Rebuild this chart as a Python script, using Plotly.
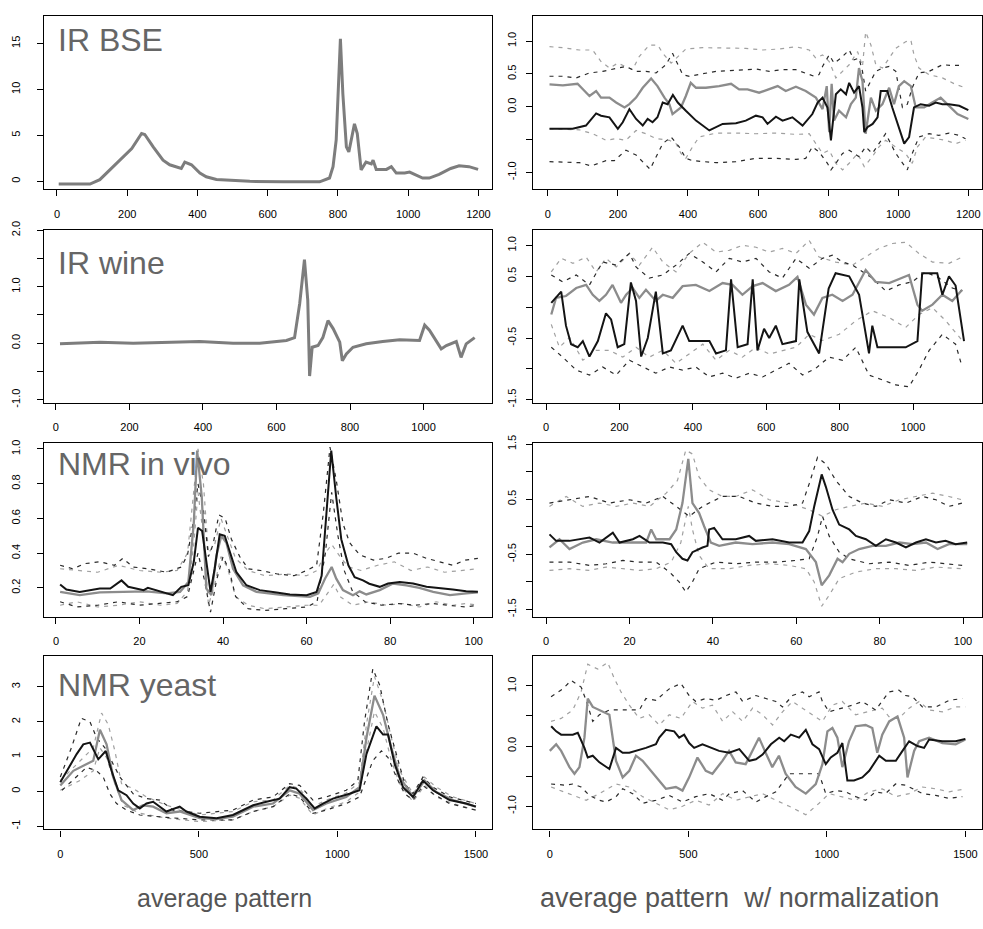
import plotly.graph_objects as go

# ---------------- data ----------------
# Row 1 left: IR BSE average pattern
bse_x = [5,94,122,151,198,213,241,250,274,302,321,340,354,364,383,407,425,454,502,549,644,748,776,786,795,807,814,824,831,838,847,855,866,880,895,900,909,938,952,966,990,1004,1041,1060,1088,1121,1145,1173,1199]
bse_y = [-0.3,-0.3,0.18,1.25,3.0,3.57,5.2,5.1,3.75,2.3,1.8,1.6,1.4,2.1,1.8,0.9,0.5,0.2,0.1,0.0,-0.05,-0.05,0.36,1.6,4.5,15.5,9.5,3.75,3.2,4.5,6.25,5.2,1.25,2.1,1.9,2.3,1.3,1.3,1.6,0.9,0.9,1.0,0.35,0.35,0.75,1.4,1.7,1.6,1.3]

# Row 1 right: IR BSE normalized
bsen_black_x = [5,71,109,124,138,152,176,200,214,233,252,271,285,299,313,328,342,357,371,394,423,461,499,537,565,594,613,627,651,670,698,727,755,770,784,798,808,812,822,836,851,860,874,888,898,903,912,927,941,950,969,983,1002,1017,1031,1045,1064,1088,1107,1126,1145,1174,1200]
bsen_black_y = [-0.335,-0.335,-0.285,-0.185,-0.1,-0.135,-0.16,-0.335,-0.235,-0.035,-0.185,-0.285,-0.185,-0.235,-0.16,0.065,0.04,0.18,0.065,-0.06,-0.21,-0.36,-0.26,-0.25,-0.21,-0.135,-0.16,-0.26,-0.15,-0.21,-0.16,-0.285,-0.11,0.065,0.14,-0.01,-0.51,-0.31,0.19,0.265,0.19,0.365,0.215,0.315,-0.01,-0.385,-0.31,-0.26,-0.16,0.24,0.24,-0.01,-0.31,-0.56,-0.46,-0.01,0.04,0.015,0.065,0.04,0.04,0.015,-0.05]
bsen_gray_x = [5,43,85,119,138,152,176,195,219,233,252,271,295,313,333,347,356,380,394,408,423,451,489,523,546,570,603,632,656,679,708,736,765,784,796,803,810,817,831,851,865,879,888,898,907,922,936,955,974,988,1002,1017,1036,1050,1074,1097,1121,1145,1169,1200]
bsen_gray_y = [0.34,0.325,0.35,0.165,0.24,0.14,0.14,0.065,-0.01,0.04,0.14,0.29,0.43,0.315,0.14,0.04,-0.11,-0.01,0.165,0.365,0.29,0.29,0.315,0.35,0.265,0.265,0.215,0.265,0.315,0.24,0.305,0.24,0.14,-0.035,0.315,-0.385,0.35,-0.21,-0.06,-0.16,0.04,0.14,0.59,0.39,-0.41,0.14,-0.06,0.04,0.29,0.04,0.315,0.39,0.315,-0.01,-0.01,0.065,0.14,0.015,-0.11,-0.185]
bsen_gu_x = [5,43,90,128,152,176,200,223,242,261,290,314,328,352,371,394,442,518,565,613,660,708,746,765,784,803,822,841,860,884,898,907,922,936,955,974,993,1021,1036,1045,1059,1088,1126,1164,1192]
bsen_gu_y = [0.915,0.9,0.865,0.865,0.69,0.59,0.665,0.615,0.565,0.765,0.94,0.94,0.815,0.665,0.765,0.88,0.9,0.9,0.89,0.865,0.88,0.915,0.865,0.74,0.79,0.69,0.44,0.54,0.64,0.84,0.615,1.14,0.94,0.64,0.59,0.74,0.89,0.99,1.015,0.79,0.59,0.49,0.44,0.34,0.29]
bsen_bu_x = [5,43,81,119,157,195,223,252,280,309,337,356,371,385,404,442,480,518,556,594,632,670,708,736,760,774,784,803,817,836,860,874,888,898,907,936,955,974,993,1012,1026,1040,1059,1088,1126,1154,1183]
bsen_bu_y = [0.465,0.465,0.44,0.515,0.54,0.59,0.615,0.54,0.54,0.515,0.64,0.815,0.64,0.49,0.465,0.5,0.54,0.55,0.565,0.575,0.54,0.565,0.565,0.515,0.465,0.49,0.615,0.79,0.665,0.74,0.865,0.715,0.74,0.54,0.24,0.54,0.59,0.615,0.54,-0.01,0.04,0.29,0.515,0.54,0.64,0.63,0.63]
bsen_bl_x = [5,90,124,166,190,223,252,276,292,314,328,352,375,394,413,480,537,594,651,708,736,755,774,798,808,822,841,860,888,907,926,945,964,993,1012,1026,1040,1059,1088,1116,1145,1173,1192]
bsen_bl_y = [-0.835,-0.85,-0.9,-0.82,-0.82,-0.66,-0.735,-0.86,-0.95,-0.71,-0.56,-0.46,-0.61,-0.785,-0.82,-0.85,-0.835,-0.785,-0.785,-0.8,-0.785,-0.61,-0.685,-0.86,-0.96,-0.86,-0.71,-0.66,-0.76,-0.61,-0.71,-0.56,-0.41,-0.71,-0.86,-0.96,-0.71,-0.46,-0.41,-0.435,-0.4,-0.435,-0.485]
bsen_gl_x = [5,90,128,166,195,223,252,280,309,347,366,380,394,413,432,480,537,594,651,708,746,770,784,803,822,841,860,884,903,926,945,964,993,1021,1040,1055,1078,1107,1135,1164,1192]
bsen_gl_y = [-0.335,-0.35,-0.41,-0.51,-0.485,-0.51,-0.36,-0.41,-0.485,-0.51,-0.56,-0.71,-0.785,-0.61,-0.46,-0.4,-0.4,-0.41,-0.4,-0.42,-0.41,-0.61,-0.71,-0.66,-0.86,-0.96,-0.86,-0.71,-0.91,-0.76,-0.61,-0.51,-0.61,-0.71,-0.86,-0.61,-0.46,-0.485,-0.51,-0.56,-0.51]

# Row 2 left: IR wine average pattern
wine_x = [11,120,210,301,391,482,554,627,649,663,676,685,690,697,713,726,740,754,767,772,779,790,808,844,889,935,989,1003,1016,1048,1062,1089,1102,1116,1139]
wine_y = [-0.01,0.02,0.0,0.02,0.03,0.0,0.0,0.05,0.1,0.7,1.48,0.76,-0.58,-0.07,-0.04,0.1,0.4,0.26,0.1,0.02,-0.31,-0.19,-0.07,-0.01,0.03,0.06,0.05,0.32,0.23,-0.1,-0.04,0.03,-0.25,-0.01,0.1]

# Row 2 right: IR wine normalized
winen_black_x = [14,41,54,68,86,100,118,141,163,177,195,213,231,245,259,277,299,318,340,372,390,445,463,490,504,522,549,563,576,594,608,626,644,681,690,712,744,770,789,826,853,880,889,903,980,1012,1025,1066,1080,1098,1116,1139]
winen_black_y = [0.07,0.25,-0.3,-0.6,-0.65,-0.55,-0.8,-0.55,-0.1,-0.2,-0.65,-0.6,0.4,0.1,-0.8,-0.5,0.25,-0.75,-0.7,-0.3,-0.55,-0.55,-0.75,-0.7,0.45,-0.65,-0.6,0.45,-0.7,-0.35,-0.5,-0.3,-0.6,-0.55,0.45,-0.4,-0.75,0.3,0.55,0.5,0.2,-0.75,-0.3,-0.65,-0.65,-0.55,0.55,0.55,0.2,0.5,0.35,-0.55]
winen_gray_x = [14,27,54,82,109,127,145,163,181,204,218,236,254,272,299,318,345,372,408,445,481,508,535,563,590,626,662,685,708,730,753,780,808,835,871,898,935,989,1012,1025,1053,1080,1107,1134]
winen_gray_y = [-0.12,0.15,0.18,0.31,0.36,0.2,0.1,0.2,0.36,0.07,0.2,0.31,0.15,0.28,0.1,0.2,0.15,0.34,0.36,0.26,0.39,0.36,0.2,0.34,0.39,0.26,0.36,0.49,0.04,-0.12,0.15,0.2,0.1,0.2,0.6,0.41,0.39,0.52,0.04,-0.06,0.04,0.2,0.1,0.28]
winen_gu_x = [14,41,73,109,136,163,191,227,254,290,318,354,390,427,463,499,535,572,608,644,681,717,744,789,835,871,907,944,980,1016,1053,1098,1134]
winen_gu_y = [0.57,0.79,0.71,0.81,0.57,0.79,0.65,0.87,0.68,0.97,0.73,0.57,0.87,1.05,0.89,0.92,1.0,0.97,0.89,0.95,0.87,1.08,0.81,0.73,0.68,0.81,0.95,1.03,1.05,0.87,0.73,0.71,0.81]
winen_bu_x = [14,45,82,118,154,191,227,245,281,318,354,390,427,463,499,535,572,608,644,681,717,753,780,808,835,862,889,926,962,998,1034,1071,1107,1134]
winen_bu_y = [0.52,0.41,0.52,0.36,0.73,0.68,0.87,0.65,0.47,0.52,0.68,0.87,0.73,0.57,0.79,0.73,0.79,0.57,0.47,0.79,0.63,0.79,0.84,0.73,0.68,0.57,0.47,0.26,0.36,0.41,0.57,0.47,0.31,0.26]
winen_bl_x = [14,45,82,118,154,191,227,263,299,336,372,408,445,481,517,554,590,626,662,699,735,771,808,844,880,917,953,989,1016,1044,1080,1116,1134]
winen_bl_y = [-0.65,-0.81,-1.02,-1.1,-0.97,-1.1,-0.86,-0.97,-1.07,-0.97,-1.02,-0.97,-1.13,-1.07,-1.15,-1.07,-1.13,-1.02,-0.91,-1.1,-0.99,-0.81,-0.86,-0.65,-1.1,-1.18,-1.26,-1.29,-1.02,-0.7,-0.44,-0.6,-0.97]
winen_gl_x = [14,36,64,100,136,172,209,245,281,318,354,390,427,463,499,535,572,608,644,681,717,753,799,844,889,935,980,1016,1053,1089,1134]
winen_gl_y = [-0.28,-0.65,-0.49,-0.86,-0.7,-0.7,-0.81,-0.65,-0.81,-0.7,-0.91,-0.76,-0.6,-0.86,-0.7,-0.81,-0.65,-0.76,-0.7,-0.65,-0.44,-0.54,-0.44,-0.22,-0.06,-0.17,-0.33,-0.12,-0.01,-0.22,-0.54]

# Row 3 left: NMR in vivo average pattern
vivo_black_x = [1,2.5,5.7,10.5,13,15.7,17.3,21,22,25,28,30,31.7,33,34,35,36,37,38,39.2,40.4,41.6,43.2,45.6,48.8,52.8,56,60,62.4,63.6,64.8,65.9,67.1,68.3,70,71.5,73.5,75,77.5,79.5,82.3,85.5,88.7,91.9,95,98.2,101]
vivo_black_y = [0.22,0.19,0.177,0.196,0.196,0.243,0.206,0.187,0.2,0.177,0.158,0.206,0.215,0.35,0.546,0.527,0.366,0.177,0.31,0.508,0.5,0.404,0.29,0.215,0.187,0.174,0.162,0.158,0.177,0.27,0.63,0.99,0.72,0.48,0.33,0.262,0.243,0.224,0.206,0.225,0.234,0.225,0.206,0.196,0.19,0.181,0.177]
vivo_gray_x = [1,5.7,10.5,17,21.7,26.5,29.7,31.7,33,33.8,34.9,36,37.2,38.4,39.6,40.8,42.4,44.8,48,54.4,60.8,62.8,64.4,66,67.1,68.7,71.1,72.7,74.3,77.5,80.7,83.9,87,90.3,94.3,98.2,101]
vivo_gray_y = [0.177,0.158,0.174,0.177,0.18,0.168,0.177,0.234,0.574,0.99,0.726,0.196,0.158,0.385,0.5,0.46,0.31,0.215,0.177,0.158,0.149,0.168,0.253,0.32,0.253,0.187,0.158,0.18,0.162,0.187,0.225,0.215,0.2,0.177,0.158,0.168,0.174]
vivo_bu_x = [1,4,7,10.5,14,16,18.5,22,26.5,30,31.5,33,34,35.3,36.5,37.6,39,40.5,42,44,46,49,53,57,60,62.4,64,65.6,67.1,68.7,70.3,72.7,76,79,82,85.5,88.7,92,95,98,101]
vivo_bu_y = [0.33,0.31,0.34,0.35,0.33,0.37,0.32,0.31,0.29,0.32,0.39,0.6,0.8,0.65,0.38,0.45,0.62,0.6,0.48,0.38,0.31,0.3,0.28,0.27,0.3,0.33,0.63,1.01,0.82,0.57,0.46,0.39,0.36,0.37,0.4,0.4,0.37,0.35,0.33,0.36,0.37]
vivo_gu_x = [1,5,10,15,20,25,29,31.5,33,34,35.3,36.5,38,39.5,41,43,46,50,55,60,62.5,64.5,66,68,70,73,77,81,85,89,93,97,101]
vivo_gu_y = [0.31,0.3,0.29,0.33,0.3,0.29,0.3,0.4,0.75,1.0,0.8,0.4,0.45,0.6,0.5,0.37,0.3,0.27,0.28,0.27,0.3,0.4,0.45,0.38,0.32,0.3,0.33,0.35,0.3,0.32,0.29,0.3,0.31]
vivo_bl_x = [1,5,10,15,20,25,29,31.5,33,34,35.5,37,38.5,40,41.5,43,46,50,55,60,62.5,64.5,66,67.5,69,71,74,78,82,86,90,94,98,101]
vivo_bl_y = [0.12,0.09,0.1,0.12,0.1,0.11,0.12,0.15,0.3,0.4,0.25,0.06,0.25,0.38,0.3,0.15,0.08,0.07,0.08,0.09,0.12,0.4,0.75,0.5,0.3,0.18,0.12,0.1,0.11,0.1,0.11,0.1,0.09,0.1]
vivo_gl_x = [1,5,10,15,20,25,29,31.5,33,34,35.3,36.5,38,39.5,41,43,46,50,55,60,63,65,66.5,68,71,75,79,83,87,91,95,98,101]
vivo_gl_y = [0.1,0.12,0.09,0.1,0.12,0.1,0.11,0.18,0.45,0.75,0.5,0.1,0.22,0.38,0.32,0.15,0.1,0.08,0.09,0.1,0.1,0.17,0.22,0.15,0.1,0.12,0.1,0.11,0.09,0.12,0.1,0.11,0.1]

# Row 3 right: NMR in vivo normalized
vivon_black_x = [0.8,2.4,5.6,10.4,12.8,16,17.6,20.8,22.4,24.8,28,30,31.2,32.7,33.9,35.1,37.5,38.7,39.1,40.3,42.3,45.5,48.7,50.3,54.3,58.3,61.5,63.1,64.3,66.1,67.1,68.7,70.3,72.7,74.3,76.7,79.1,81.5,83.9,86.3,88.7,91.1,93.5,95.8,98.2,101]
vivon_black_y = [-0.137,-0.255,-0.255,-0.196,-0.285,-0.107,-0.285,-0.226,-0.166,-0.285,-0.285,-0.315,-0.46,-0.58,-0.61,-0.46,-0.375,-0.345,-0.05,-0.02,-0.226,-0.226,-0.166,-0.255,-0.226,-0.285,-0.285,-0.077,0.368,0.95,0.725,0.31,0.04,-0.048,-0.166,-0.226,-0.345,-0.226,-0.285,-0.375,-0.285,-0.226,-0.285,-0.255,-0.315,-0.285]
vivon_gray_x = [0.8,3.2,5.6,8.8,12,16,20,24,25.2,26.4,29.6,31.2,32.7,34.1,35.1,36.7,37.9,39.5,41.5,45.5,49.5,54.3,58.3,62.3,64.7,66.1,67.9,69.9,71.1,72.7,75.1,78.3,81.5,84.7,87.9,91.1,93.9,96.6,101]
vivon_gray_y = [-0.375,-0.226,-0.404,-0.285,-0.226,-0.285,-0.285,-0.285,-0.048,-0.226,-0.226,-0.048,0.43,1.23,0.43,0.25,0.01,-0.285,-0.345,-0.285,-0.315,-0.285,-0.315,-0.404,-0.64,-1.06,-0.88,-0.58,-0.64,-0.49,-0.404,-0.345,-0.345,-0.285,-0.315,-0.285,-0.404,-0.315,-0.315]
vivon_bu_x = [0.8,5.6,10.4,15.2,20,24,28,31.2,34.3,37.5,42.3,46.3,50.3,54.3,58.3,61.5,63.1,65.1,67.1,69.5,72.7,75.9,79.1,82.3,86.3,90.3,93.5,96.6,99.8]
vivon_bu_y = [0.43,0.49,0.55,0.43,0.49,0.43,0.55,0.37,0.19,0.37,0.55,0.55,0.43,0.37,0.37,0.43,0.78,1.26,1.14,0.84,0.55,0.43,0.37,0.49,0.43,0.55,0.49,0.37,0.43]
vivon_gu_x = [0.8,4.8,8.8,12.8,16.8,20.8,24.8,28.8,31.5,33.5,35.1,36.7,39.1,42.3,45.5,49.5,53.5,58.3,63.1,66.3,69.5,72.7,76.7,80.7,84.7,88.7,92.7,96.6,99.8]
vivon_gu_y = [0.37,0.55,0.37,0.43,0.37,0.43,0.37,0.61,0.84,1.39,1.32,0.9,0.67,0.55,0.55,0.67,0.49,0.43,0.31,0.19,0.31,0.37,0.43,0.37,0.49,0.55,0.61,0.55,0.49]
vivon_bl_x = [0.8,5.6,10.4,14.4,18.4,22.4,26.4,29.6,31.9,33.5,35.1,36.7,40.7,45.5,50.3,55.1,59.9,63.1,65.1,66.3,67.9,70.3,72.7,77.5,82.3,87.1,91.9,96.6,99.8]
vivon_bl_y = [-0.64,-0.64,-0.7,-0.67,-0.61,-0.64,-0.64,-0.82,-1.0,-1.18,-1.0,-0.76,-0.64,-0.67,-0.64,-0.64,-0.61,-0.58,-0.17,0.19,-0.17,-0.46,-0.58,-0.67,-0.64,-0.7,-0.64,-0.67,-0.7]
vivon_gl_x = [0.8,5.6,10.4,14.4,18.4,22.4,26.4,30,32.3,34.1,35.1,36.7,39.1,43.9,48.7,53.5,58.3,62.3,64.3,66.1,67.9,70.3,74.3,79.1,83.9,88.7,93.5,99.8]
vivon_gl_y = [-0.79,-0.76,-0.79,-0.73,-0.76,-0.79,-0.76,-0.64,-0.29,0.37,-0.05,-0.52,-0.76,-0.76,-0.7,-0.67,-0.7,-0.76,-1.0,-1.44,-1.24,-0.94,-0.82,-0.76,-0.76,-0.79,-0.73,-0.76]

# Row 4 left: NMR yeast average pattern
yeast_black_x = [0,23,59,83,107,137,164,185,209,239,263,287,311,335,359,383,431,455,503,564,623,696,744,792,828,852,888,918,948,984,1044,1080,1105,1141,1165,1183,1207,1237,1273,1309,1345,1405,1465,1500]
yeast_black_y = [0.26,0.59,1.07,1.35,1.4,0.92,1.16,0.59,0.03,-0.11,-0.35,-0.49,-0.35,-0.3,-0.44,-0.58,-0.44,-0.58,-0.73,-0.77,-0.68,-0.4,-0.3,-0.21,0.12,0.08,-0.21,-0.49,-0.35,-0.21,-0.07,0.03,1.07,1.87,1.63,1.63,0.78,0.12,-0.16,0.31,0.03,-0.25,-0.35,-0.44]
yeast_gray_x = [0,47,119,143,167,191,221,263,299,335,383,431,503,564,623,696,768,828,864,912,960,1032,1080,1105,1134,1165,1195,1225,1273,1315,1357,1417,1500]
yeast_gray_y = [0.17,0.59,0.88,1.77,1.35,0.41,-0.25,-0.54,-0.4,-0.44,-0.63,-0.58,-0.77,-0.8,-0.73,-0.44,-0.35,0.03,-0.07,-0.54,-0.35,-0.16,0.12,1.54,2.75,2.2,1.25,0.41,-0.16,0.31,-0.02,-0.25,-0.44]
yeast_bu_x = [0,40,76,107,131,161,191,215,263,311,359,407,503,623,696,768,828,864,912,960,1032,1074,1098,1128,1153,1183,1213,1243,1273,1309,1345,1405,1500]
yeast_bu_y = [0.41,1.25,2.1,2.0,1.54,1.25,0.78,0.41,-0.07,-0.21,-0.25,-0.54,-0.63,-0.54,-0.25,-0.16,0.22,0.17,-0.25,-0.16,0.03,0.31,2.0,3.52,3.05,1.92,1.07,0.22,-0.07,0.41,0.12,-0.16,-0.35]
yeast_bl_x = [6,59,95,131,155,179,203,239,287,383,503,623,696,768,828,864,912,960,1032,1080,1105,1128,1159,1183,1213,1243,1273,1309,1345,1405,1500]
yeast_bl_y = [0.03,0.41,0.69,0.59,0.41,-0.07,-0.35,-0.54,-0.68,-0.75,-0.82,-0.82,-0.58,-0.44,-0.07,-0.16,-0.63,-0.54,-0.35,-0.16,0.41,0.88,1.16,0.97,0.41,-0.07,-0.25,0.17,-0.07,-0.35,-0.54]
yeast_gu_x = [0,71,119,149,173,197,221,263,311,383,503,623,696,768,828,864,912,960,1032,1080,1105,1134,1165,1195,1225,1273,1315,1357,1417,1500]
yeast_gu_y = [0.31,0.88,1.25,2.25,1.92,1.16,0.22,0.08,-0.16,-0.4,-0.68,-0.58,-0.3,-0.25,0.17,0.08,-0.44,-0.25,-0.05,0.26,1.92,3.3,2.58,1.54,0.59,-0.07,0.41,0.12,-0.16,-0.35]
yeast_gl_x = [0,71,119,143,167,197,227,287,383,503,623,696,768,828,864,912,960,1032,1080,1105,1134,1165,1195,1225,1273,1315,1357,1417,1500]
yeast_gl_y = [0.03,0.31,0.59,1.25,0.97,0.22,-0.4,-0.63,-0.77,-0.87,-0.82,-0.58,-0.44,-0.11,-0.2,-0.68,-0.5,-0.3,-0.02,1.16,2.29,1.82,0.88,0.22,-0.3,0.17,-0.16,-0.35,-0.54]

# Row 4 right: NMR yeast normalized
yeastn_black_x = [5,23,41,83,101,125,137,155,179,215,239,263,287,311,347,383,395,419,449,467,485,503,521,551,581,611,647,684,720,744,768,798,828,846,870,900,924,948,972,996,1014,1038,1056,1074,1098,1128,1153,1189,1213,1249,1273,1297,1327,1351,1369,1417,1465,1500]
yeastn_black_y = [0.33,0.245,0.19,0.19,0.22,-0.03,-0.19,-0.16,-0.27,-0.38,-0.03,-0.11,-0.11,-0.08,-0.03,0.03,0.14,0.27,0.245,0.14,0.19,0.05,-0.03,0.03,-0.03,-0.08,-0.11,-0.05,-0.245,-0.22,-0.14,0.03,0.14,0.08,0.19,0.14,0.27,0.03,-0.05,-0.3,-0.19,-0.11,0.05,-0.57,-0.57,-0.52,-0.41,-0.16,-0.245,-0.245,-0.08,0.08,0.0,-0.03,0.11,0.08,0.08,0.12]
yeastn_gray_x = [0,23,41,71,89,107,125,137,155,191,215,239,263,287,311,335,383,419,455,479,503,533,563,587,623,647,671,707,731,755,779,803,827,851,887,924,960,984,1002,1020,1038,1056,1080,1104,1140,1164,1182,1200,1225,1255,1279,1291,1315,1333,1369,1417,1465,1500]
yeastn_gray_y = [-0.08,0.03,-0.08,-0.35,-0.46,-0.35,0.14,0.79,0.65,0.57,0.52,-0.245,-0.52,-0.41,-0.16,-0.245,-0.52,-0.71,-0.68,-0.74,-0.52,-0.19,-0.41,-0.46,-0.245,-0.08,-0.27,-0.3,-0.08,0.14,-0.11,-0.35,-0.16,-0.46,-0.68,-0.79,-0.63,-0.3,0.245,0.3,0.14,-0.35,0.08,0.33,0.35,0.3,-0.11,0.19,0.41,0.49,0.14,-0.52,-0.08,0.08,0.14,0.05,0.03,0.11]
yeastn_bu_x = [4.6,47,77,113,131,155,179,215,263,323,347,383,431,473,503,527,563,600,636,672,696,744,780,816,840,876,912,936,972,984,1008,1056,1092,1128,1176,1224,1260,1284,1309,1345,1393,1441,1489]
yeastn_bu_y = [0.82,0.95,1.09,0.98,0.76,0.41,0.52,0.6,0.6,0.6,0.79,0.76,0.95,1.04,0.84,0.74,0.79,0.76,0.84,0.9,0.74,0.84,0.79,0.74,0.65,0.84,0.9,0.82,0.9,0.74,0.57,0.63,0.68,0.74,0.6,0.9,0.93,0.84,0.82,0.65,0.65,0.76,0.79]
yeastn_gu_x = [4.6,41,83,113,137,173,209,233,257,287,323,359,395,431,473,515,551,587,624,660,696,732,768,804,840,876,912,948,984,1020,1056,1104,1152,1200,1224,1260,1297,1333,1369,1417,1465,1500]
yeastn_gu_y = [0.41,0.46,0.6,0.9,1.36,1.28,1.39,1.12,0.9,0.68,0.46,0.52,0.35,0.52,0.46,0.74,0.63,0.68,0.41,0.57,0.41,0.63,0.52,0.35,0.57,0.74,0.63,0.52,0.41,0.68,0.74,0.52,0.57,0.63,0.49,0.46,0.63,0.74,0.6,0.57,0.65,0.65]
yeastn_bl_x = [4.6,59,83,113,143,179,203,239,263,299,335,383,431,479,527,575,624,648,696,744,780,816,864,972,996,1032,1068,1104,1140,1176,1212,1248,1284,1309,1345,1393,1441,1489]
yeastn_bl_y = [-0.63,-0.65,-0.63,-0.68,-0.82,-0.9,-0.93,-0.84,-0.71,-0.79,-0.95,-0.9,-0.82,-0.93,-0.84,-0.79,-0.9,-0.79,-0.74,-0.93,-0.84,-0.76,-0.46,-0.46,-0.79,-0.74,-0.76,-0.84,-0.9,-0.76,-0.79,-0.63,-0.65,-0.71,-0.79,-0.82,-0.87,-0.84]
yeastn_gl_x = [4.6,71,131,179,239,287,335,383,431,479,527,575,624,672,720,768,816,864,924,972,1008,1056,1104,1152,1200,1248,1297,1345,1393,1441,1500]
yeastn_gl_y = [-0.68,-0.79,-0.9,-0.79,-0.63,-0.68,-0.84,-0.95,-1.06,-1.0,-0.9,-0.98,-0.79,-0.9,-0.84,-0.79,-0.9,-1.0,-1.14,-0.95,-0.79,-0.84,-0.9,-0.76,-0.71,-0.84,-0.79,-0.68,-0.71,-0.76,-0.71]

# text
panel_labels = ["IR BSE", "IR wine", "NMR in vivo", "NMR yeast"]
column_titles = ["average pattern", "average pattern  w/ normalization"]

# ---------------- styling / layout ----------------
W, H = 983, 929
BLACK = "#141414"
GRAY = "#8c8c8c"
DBLACK = "#2a2a2a"
DGRAY = "#a0a0a0"
FONT = "Liberation Sans, Arial, Helvetica, sans-serif"

col_px = {"L": (44, 493), "R": (534, 983)}
row_px = [(7, 183), (224, 400), (441, 617), (657, 833)]

fig = go.Figure()

def dom_x(c):
    a, b = col_px[c]
    return [a / W, min(1.0, b / W)]

def dom_y(r):
    t, b = row_px[r]
    return [1 - b / H, 1 - t / H]

def add_panel(idx, col, row, xr, yr, xt, yt, ytxt):
    sfx = "" if idx == 1 else str(idx)
    common = dict(showline=True, mirror=True, linecolor="black", linewidth=1.3,
                  ticks="outside", ticklen=6, tickwidth=1, tickcolor="black",
                  showgrid=False, zeroline=False,
                  tickfont=dict(family=FONT, size=11, color="black"))
    fig.layout["xaxis" + sfx] = dict(domain=dom_x(col), range=xr, anchor="y" + sfx,
                                     tickvals=xt, ticktext=[str(v) for v in xt],
                                     ticklabelstandoff=8, **common)
    fig.layout["yaxis" + sfx] = dict(domain=dom_y(row), range=yr, anchor="x" + sfx,
                                     tickvals=yt, ticktext=ytxt, tickangle=-90,
                                     ticklabelstandoff=(12 if col == "L" else 6), **common)

def line(idx, x, y, color, width, dash=None):
    sfx = "" if idx == 1 else str(idx)
    fig.add_trace(go.Scatter(x=x, y=y, mode="lines", xaxis="x" + sfx, yaxis="y" + sfx,
                             line=dict(color=color, width=width, dash=dash),
                             showlegend=False, hoverinfo="skip"))

DASH = "4px,5px"

def band_panel(idx, bu, bl, gu, gl, gray, black):
    line(idx, gu[0], gu[1], DGRAY, 1.2, DASH)
    line(idx, gl[0], gl[1], DGRAY, 1.2, DASH)
    line(idx, bu[0], bu[1], DBLACK, 1.2, DASH)
    line(idx, bl[0], bl[1], DBLACK, 1.2, DASH)
    line(idx, gray[0], gray[1], GRAY, 2.3)
    line(idx, black[0], black[1], BLACK, 2.0)

t1200 = [0, 200, 400, 600, 800, 1000, 1200]
t1000 = [0, 200, 400, 600, 800, 1000]
t100 = [0, 20, 40, 60, 80, 100]
t1500 = [0, 500, 1000, 1500]

add_panel(1, "L", 0, [-37, 1240], [-0.86, 18.0], t1200, [0, 5, 10, 15], ["0", "5", "10", "15"])
line(1, bse_x, bse_y, "#7d7d7d", 3)
add_panel(2, "R", 0, [-40.8, 1239], [-1.255, 1.384], t1200, [-1, -0.5, 0, 0.5, 1],
          ["-1.0", "", "0.0", "0.5", "1.0"])
band_panel(2, (bsen_bu_x, bsen_bu_y), (bsen_bl_x, bsen_bl_y), (bsen_gu_x, bsen_gu_y),
           (bsen_gl_x, bsen_gl_y), (bsen_gray_x, bsen_gray_y), (bsen_black_x, bsen_black_y))
add_panel(3, "L", 1, [-32.6, 1187.5], [-1.056, 2.01], t1000, [-1, -0.5, 0, 0.5, 1, 1.5, 2],
          ["-1.0", "", "0.0", "", "1.0", "", "2.0"])
line(3, wine_x, wine_y, "#7d7d7d", 3)
add_panel(4, "R", 1, [-34.6, 1188], [-1.552, 1.255], t1000, [-1.5, -1, -0.5, 0, 0.5, 1],
          ["-1.5", "", "-0.5", "", "0.5", "1.0"])
band_panel(4, (winen_bu_x, winen_bu_y), (winen_bl_x, winen_bl_y), (winen_gu_x, winen_gu_y),
           (winen_gl_x, winen_gl_y), (winen_gray_x, winen_gray_y), (winen_black_x, winen_black_y))
add_panel(5, "L", 2, [-2.87, 104.5], [0.034, 1.032], t100, [0.2, 0.4, 0.6, 0.8, 1.0],
          ["0.2", "0.4", "0.6", "0.8", "1.0"])
band_panel(5, (vivo_bu_x, vivo_bu_y), (vivo_bl_x, vivo_bl_y), (vivo_gu_x, vivo_gu_y),
           (vivo_gl_x, vivo_gl_y), (vivo_gray_x, vivo_gray_y), (vivo_black_x, vivo_black_y))
add_panel(6, "R", 2, [-3.04, 104.55], [-1.63, 1.513], t100, [-1.5, -1, -0.5, 0, 0.5, 1, 1.5],
          ["-1.5", "", "-0.5", "", "0.5", "", "1.5"])
band_panel(6, (vivon_bu_x, vivon_bu_y), (vivon_bl_x, vivon_bl_y), (vivon_gu_x, vivon_gu_y),
           (vivon_gl_x, vivon_gl_y), (vivon_gray_x, vivon_gray_y), (vivon_black_x, vivon_black_y))
add_panel(7, "L", 3, [-59, 1560], [-1.095, 3.886], t1500, [-1, 0, 1, 2, 3],
          ["-1", "0", "1", "2", "3"])
band_panel(7, (yeast_bu_x, yeast_bu_y), (yeast_bl_x, yeast_bl_y), (yeast_gu_x, yeast_gu_y),
           (yeast_gl_x, yeast_gl_y), (yeast_gray_x, yeast_gray_y), (yeast_black_x, yeast_black_y))
add_panel(8, "R", 3, [-59, 1560], [-1.385, 1.495], t1500, [-1, -0.5, 0, 0.5, 1],
          ["-1.0", "", "0.0", "", "1.0"])
band_panel(8, (yeastn_bu_x, yeastn_bu_y), (yeastn_bl_x, yeastn_bl_y), (yeastn_gu_x, yeastn_gu_y),
           (yeastn_gl_x, yeastn_gl_y), (yeastn_gray_x, yeastn_gray_y), (yeastn_black_x, yeastn_black_y))

annotations = []
label_centers = [31, 258, 462, 686]
for txt, cy in zip(panel_labels, label_centers):
    annotations.append(dict(text=txt, xref="paper", yref="paper", x=56 / W, y=1 - cy / H,
                            xanchor="left", yanchor="middle", showarrow=False,
                            font=dict(family=FONT, size=32, color="#666666")))
for txt, cx, fs in zip(column_titles, [225, 740], [25, 27]):
    annotations.append(dict(text=txt, xref="paper", yref="paper", x=cx / W, y=1 - 903 / H,
                            xanchor="center", yanchor="middle", showarrow=False,
                            font=dict(family=FONT, size=fs, color="#555555")))

fig.update_layout(width=W, height=H, margin=dict(l=0, r=0, t=0, b=0),
                  paper_bgcolor="white", plot_bgcolor="white",
                  annotations=annotations, showlegend=False)

fig.write_html("out.html", config={"displayModeBar": False},
               post_script="document.body.style.margin='0px';document.body.style.overflow='hidden';")
